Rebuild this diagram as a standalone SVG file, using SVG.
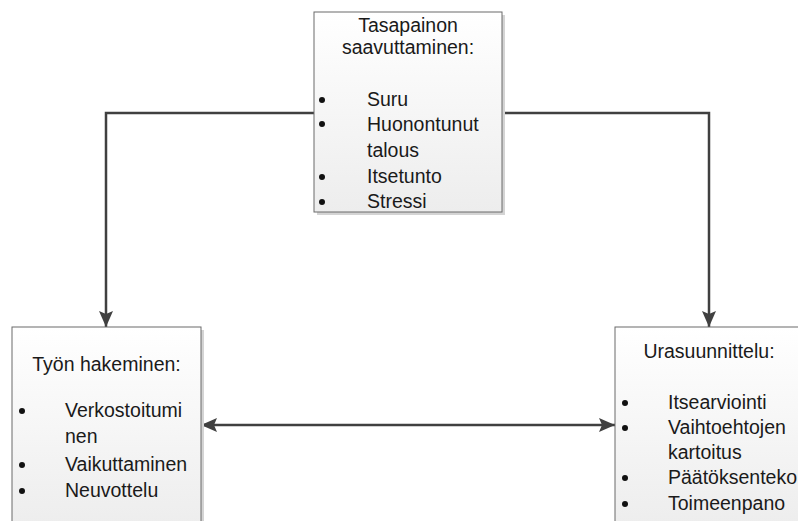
<svg xmlns="http://www.w3.org/2000/svg" width="798" height="521" viewBox="0 0 798 521">
<defs>
<linearGradient id="g" x1="0" y1="0" x2="0" y2="1">
<stop offset="0" stop-color="#ffffff"/>
<stop offset="1" stop-color="#ededed"/>
</linearGradient>
<marker id="ah" viewBox="0 0 16 14" refX="16" refY="7" markerWidth="16" markerHeight="14" markerUnits="userSpaceOnUse" orient="auto-start-reverse">
<path d="M0,0 L16,7 L0,14 L3,7 Z" fill="#404040"/>
</marker>
</defs>
<style>
.box{fill:url(#g);stroke:#6a6a6a;stroke-width:1}
.sh{fill:#d4d4d4}
text{font-family:"Liberation Sans",Arial,sans-serif;font-size:19.5px;fill:#1a1a1a}
.c{text-anchor:middle}
.b{fill:#111}
.con{fill:none;stroke:#404040;stroke-width:2.5}
</style>
<g id="connectors">
<path class="con" d="M314,113 H106 V327" marker-end="url(#ah)"/>
<path class="con" d="M502,113 H709 V327" marker-end="url(#ah)"/>
<path class="con" d="M201,425 H615" marker-start="url(#ah)" marker-end="url(#ah)"/>
</g>
<g id="tasapainon">
<rect class="sh" x="317" y="15" width="188" height="200"/>
<rect class="box" x="314" y="12" width="188" height="200"/>
<text class="c" x="408" y="32">Tasapainon</text>
<text class="c" x="408" y="54">saavuttaminen:</text>
<circle class="b" cx="322" cy="100" r="3"/>
<text x="367" y="106">Suru</text>
<circle class="b" cx="322" cy="124" r="3"/>
<text x="367" y="131">Huonontunut</text>
<text x="367" y="157">talous</text>
<circle class="b" cx="322" cy="177" r="3"/>
<text x="367" y="183">Itsetunto</text>
<circle class="b" cx="322" cy="202" r="3"/>
<text x="367" y="208">Stressi</text>
</g>
<g id="tyonhakeminen">
<rect class="sh" x="15" y="330" width="189" height="200"/>
<rect class="box" x="12" y="327" width="189" height="200"/>
<text class="c" x="106.5" y="371">Työn hakeminen:</text>
<circle class="b" cx="22" cy="411" r="3"/>
<text x="65" y="417">Verkostoitumi</text>
<text x="65" y="443">nen</text>
<circle class="b" cx="22" cy="465" r="3"/>
<text x="65" y="471">Vaikuttaminen</text>
<circle class="b" cx="22" cy="491" r="3"/>
<text x="65" y="497">Neuvottelu</text>
</g>
<g id="urasuunnittelu">
<rect class="sh" x="618" y="330" width="188" height="200"/>
<rect class="box" x="615" y="327" width="188" height="200"/>
<text class="c" x="709" y="358">Urasuunnittelu:</text>
<circle class="b" cx="625" cy="403" r="3"/>
<text x="668" y="409">Itsearviointi</text>
<circle class="b" cx="625" cy="428" r="3"/>
<text x="668" y="434">Vaihtoehtojen</text>
<text x="668" y="459">kartoitus</text>
<circle class="b" cx="625" cy="478" r="3"/>
<text x="668" y="484">Päätöksenteko</text>
<circle class="b" cx="625" cy="504" r="3"/>
<text x="668" y="510">Toimeenpano</text>
</g>
</svg>
